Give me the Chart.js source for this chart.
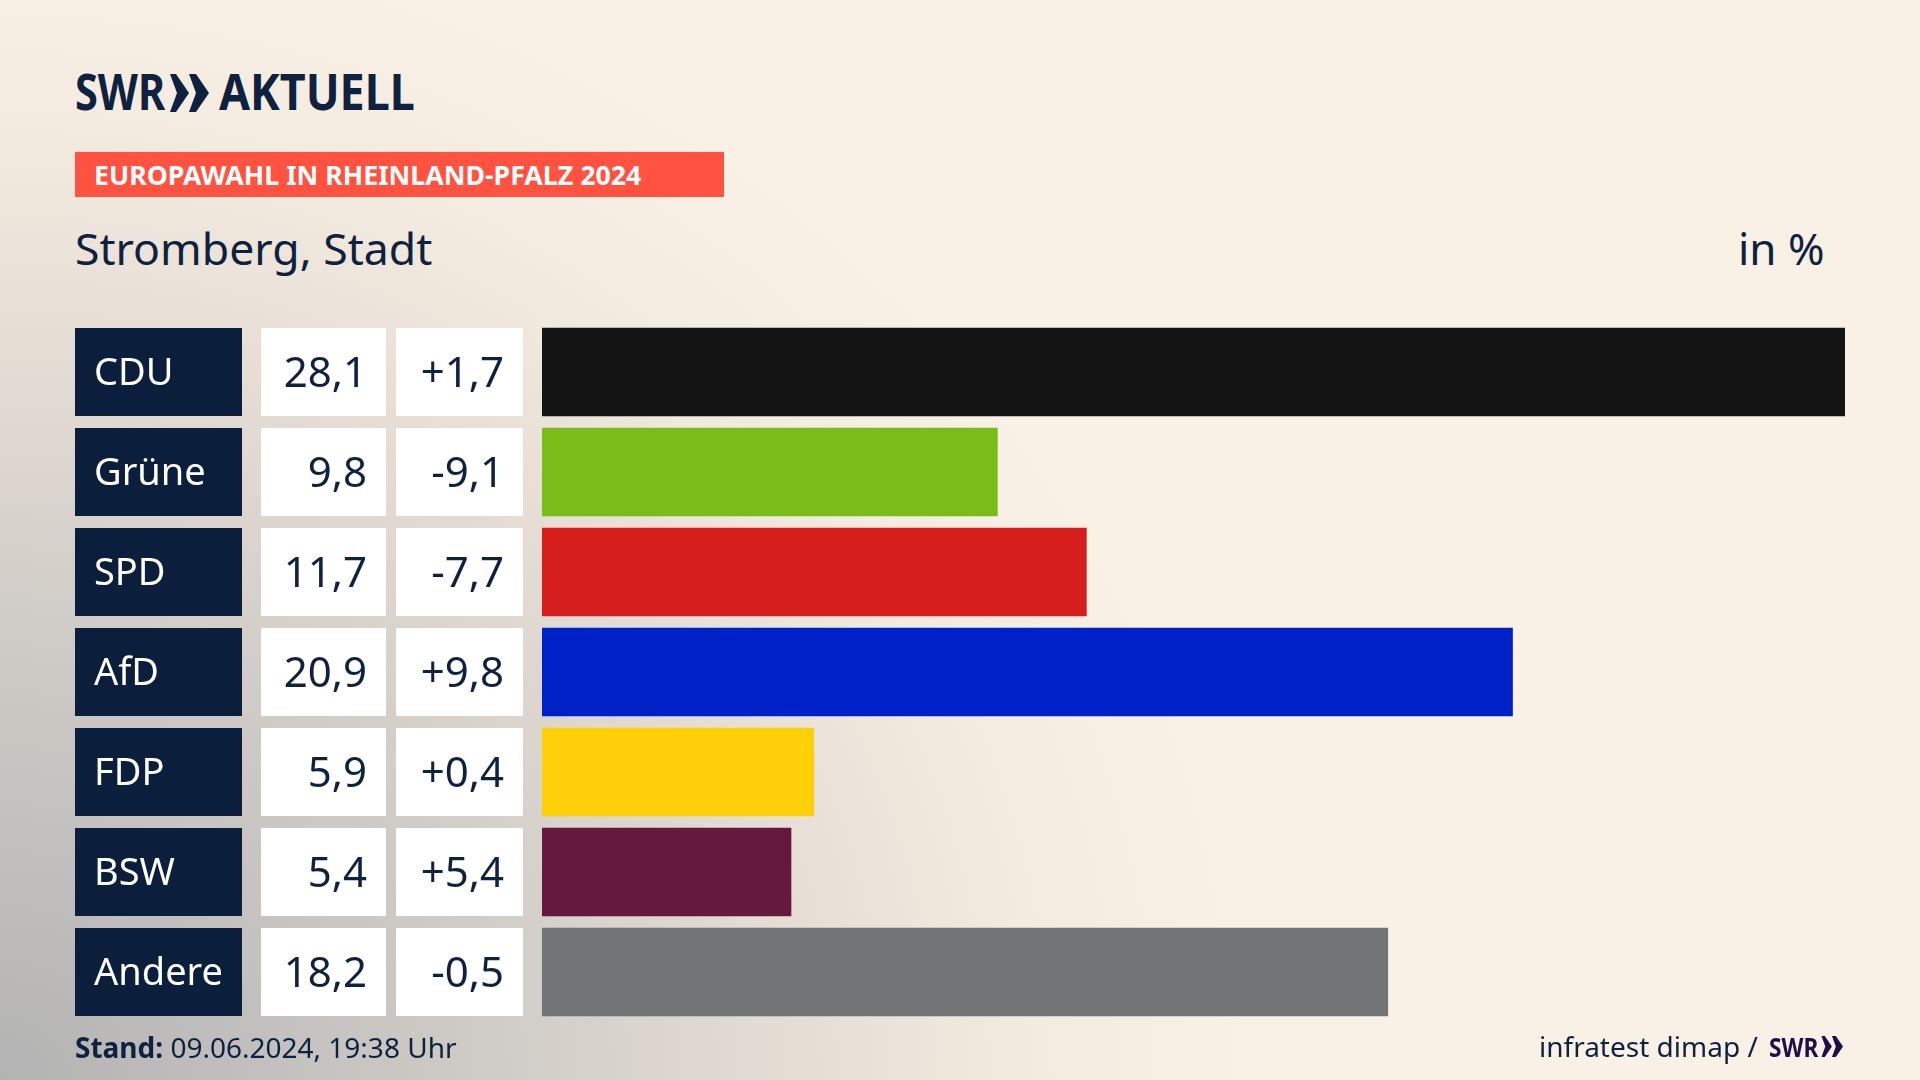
<!DOCTYPE html>
<html lang="de">
<head>
<meta charset="utf-8">
<title>Europawahl in Rheinland-Pfalz 2024</title>
<script src="https://cdn.jsdelivr.net/npm/chart.js@4"></script>
<style>
    html, body { margin: 0; padding: 0; }
    body {
        width: 1920px; height: 1080px; overflow: hidden; position: relative;
        font-family: "Noto Sans", sans-serif; color: #0e2240;
        background: radial-gradient(ellipse 1250px 1150px at 0% 100%, #b3b3b3 0%, #d0ccc7 40%, #e6ded5 65%, #f5ece1 85%, #faf1e6 100%);
    }
    canvas { position: absolute; left: 0; top: 0; }
    .txt { position: absolute; white-space: nowrap; line-height: 1; transform-origin: 0 0; }
    #banner { position: absolute; left: 75px; top: 152px; width: 649px; height: 45px; background: #ff5240; }
    .chev { position: absolute; }
</style>
</head>
<body>
<div class="txt" style="left:75px;top:66px;font-size:50px;font-weight:700;transform:scaleX(.83)">SWR</div>
<svg class="chev" style="left:170px;top:74px" width="40" height="38" viewBox="0 0 40 38">
    <path d="M0 0h6l13 19-13 19H0l7-19zM19 0h7l13 19-13 19h-7l7-19z" fill="#0e2240"/>
</svg>
<div class="txt" style="left:219px;top:66px;font-size:50px;font-weight:700;transform:scaleX(.897)">AKTUELL</div>

<div id="banner"></div>
<div class="txt" style="left:94px;top:161px;font-size:27px;font-weight:700;color:#fff;transform:scaleX(.99)">EUROPAWAHL IN RHEINLAND-PFALZ 2024</div>
<div class="txt" style="left:75px;top:226px;font-size:44px;transform:scaleX(1.013)">Stromberg, Stadt</div>
<div class="txt" style="left:1738px;top:226px;font-size:44px">in %</div>

<canvas id="chart" width="1920" height="1080"></canvas>

<div class="txt" style="left:75px;top:1033px;font-size:28px"><b>Stand:</b> 09.06.2024, 19:38 Uhr</div>
<div class="txt" style="left:1539px;top:1032px;font-size:28px">infratest dimap /</div>
<div class="txt" style="left:1769px;top:1033px;font-size:27px;font-weight:700;color:#1e0f46;transform:scaleX(.84)">SWR</div>
<svg class="chev" style="left:1821px;top:1036px" width="23" height="21" viewBox="0 0 40 38">
    <path d="M0 0h6l13 19-13 19H0l7-19zM19 0h7l13 19-13 19h-7l7-19z" fill="#1e0f46"/>
</svg>

<script>
const parties = ['CDU', 'Grüne', 'SPD', 'AfD', 'FDP', 'BSW', 'Andere'];
// second decimal
const shares = [28.1, 9.82, 11.74, 20.93, 5.86, 5.37, 18.24];
const changes = [1.7, -9.1, -7.7, 9.8, 0.4, 5.4, -0.5];
const barColors = ['#141414', '#7abd18', '#d61f1c', '#0021c8', '#ffcf0a', '#66193e', '#737476'];

const NAVY = '#0b1f3d';
const INK = '#0e2240';
const ROW_H = 88;

function fmt(v) {
    return v.toFixed(1).replace('.', ',');
}

function fmtChange(v) {
    return (v > 0 ? '+' : '') + fmt(v);
}

// the three table columns left of the bars, lined up with the y scale
const tableCells = {
    id: 'tableCells',
    beforeDraw(chart) {
        const ctx = chart.ctx;
        const y = chart.scales.y;
        parties.forEach((p, i) => {
            const top = y.getPixelForValue(i) - ROW_H / 2;
            ctx.fillStyle = NAVY;
            ctx.fillRect(75, top, 167, ROW_H);
            ctx.fillStyle = '#fff';
            ctx.fillRect(261, top, 125, ROW_H);
            ctx.fillRect(396, top, 127, ROW_H);
        });
    },
    afterDraw(chart) {
        const ctx = chart.ctx;
        const y = chart.scales.y;
        ctx.save();
        ctx.fillStyle = INK;
        ctx.font = '42px "Noto Sans"';
        ctx.textAlign = 'right';
        ctx.textBaseline = 'alphabetic';
        parties.forEach((p, i) => {
            const base = y.getPixelForValue(i) + 15;
            ctx.fillText(fmt(shares[i]), 367, base);
            ctx.fillText(fmtChange(changes[i]), 504, base);
        });
        ctx.restore();
    }
};

new Chart(document.getElementById('chart').getContext('2d'), {
    type: 'bar',
    data: {
        labels: parties,
        datasets: [{
            data: shares,
            backgroundColor: barColors,
            borderWidth: 0,
            barThickness: ROW_H
        }]
    },
    options: {
        indexAxis: 'y',
        responsive: false,
        animation: false,
        devicePixelRatio: 1,
        layout: { padding: { left: 94, right: 75, top: 322, bottom: 58 } },
        plugins: {
            legend: { display: false },
            title: { display: false },
            tooltip: { enabled: false }
        },
        scales: {
            x: { display: false, min: 0, max: 28.1 },
            y: {
                afterFit(scale) { scale.width = 448; },
                border: { display: false },
                grid: { display: false, drawTicks: false },
                ticks: {
                    color: '#ffffff',
                    crossAlign: 'far',
                    padding: 0,
                    labelOffset: 2,
                    font: { family: '"Noto Sans"', size: 38 }
                }
            }
        }
    },
    plugins: [tableCells]
});
</script>
</body>
</html>
